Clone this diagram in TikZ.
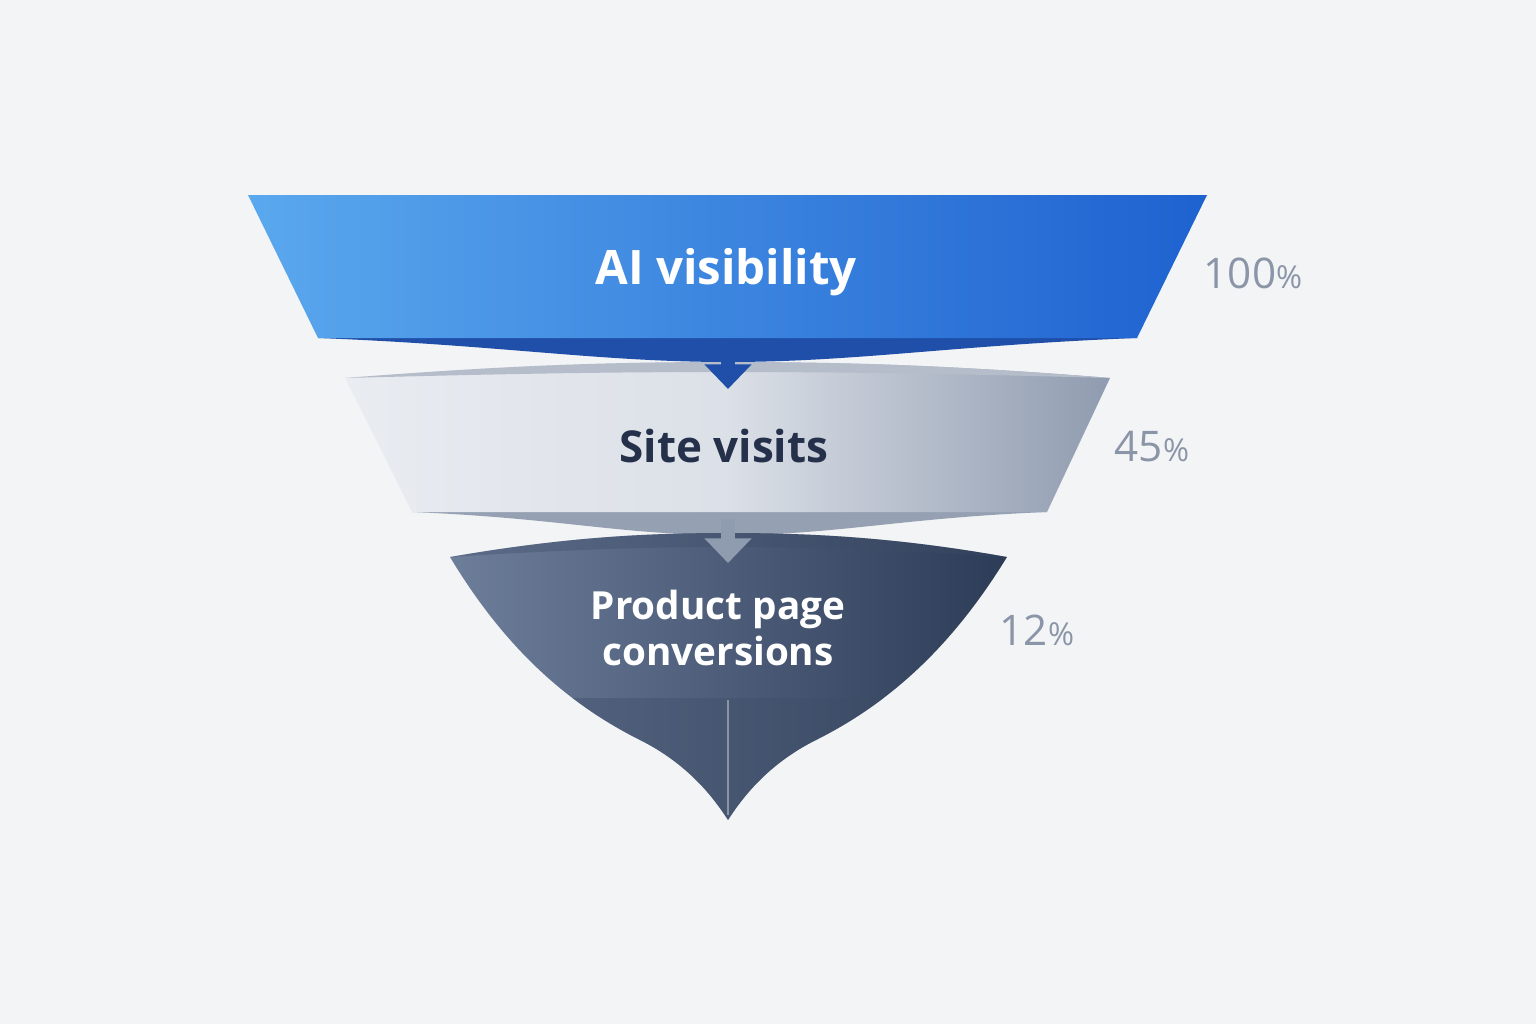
\documentclass[tikz,border=0pt]{standalone}
\usepackage{fontspec}
\setmainfont{Open Sans}
\usetikzlibrary{arrows.meta}
\definecolor{bg}{HTML}{F3F4F6}
\definecolor{blueL}{HTML}{5AA8EE}
\definecolor{blueR}{HTML}{1E62D0}
\definecolor{blueD}{HTML}{1F4FA8}
\definecolor{greyL}{HTML}{E9ECF1}
\definecolor{greyR}{HTML}{8F9BAF}
\definecolor{greyD}{HTML}{95A1B3}
\definecolor{slateL}{HTML}{6E7F9C}
\definecolor{slateR}{HTML}{2B3A55}
\definecolor{slateD}{HTML}{3E4C66}
\definecolor{ink}{HTML}{25304A}
\definecolor{pct}{HTML}{8B95A8}

\begin{document}
\begin{tikzpicture}[
    x = 0.01cm, y = -0.01cm, % pixel grid
    >= Stealth,
    label/.style = {font=\bfseries},
    percent/.style = {text = pct, font=\fontsize{12}{12}\selectfont, anchor = center},
    step arrow/.style = {line width = 4pt, -{Triangle[length=7pt,width=13pt]}},
  ]

  \fill[bg] (0,0) rectangle (1536,1024);

  % top band
  \fill[blueD] (318,338) .. controls (500,345) and (600,362) .. (728,362)
    .. controls (856,362) and (956,345) .. (1137,338) -- cycle;
  \shade[left color = blueL, right color = blueR]
    (248,195) -- (1207,195) -- (1137,338) -- (318,338) -- cycle;
  \node[label, text = white, font=\fontsize{13.5}{13.5}\selectfont\bfseries] (top) at (726,272) {AI visibility};
  \node[percent] (p1) at (1253,273) {100{\fontsize{9}{9}\selectfont\%}};

  % middle band
  \fill[greyD] (412,512) .. controls (560,518) and (620,535) .. (728,535)
    .. controls (836,535) and (900,518) .. (1047,512) -- cycle;
  \shade[left color = greyL, right color = greyR, middle color = greyL!85!greyR]
    (345,378) .. controls (500,366) and (600,362) .. (728,362)
    .. controls (856,362) and (960,366) .. (1110,378)
    -- (1047,512) -- (412,512) -- cycle;
  \fill[greyD!70] (345,378) .. controls (500,366) and (600,362) .. (728,362)
    .. controls (856,362) and (960,366) .. (1110,378)
    .. controls (960,374) and (856,372) .. (728,372)
    .. controls (600,372) and (500,374) .. (345,378) -- cycle;
  \node[label, text = ink, font=\fontsize{12.5}{12.5}\selectfont\bfseries] (mid) at (724,446) {Site visits};
  \node[percent] (p2) at (1152,447) {45{\fontsize{9}{9}\selectfont\%}};

  % bottom cone
  \begin{scope}
    \clip (450,557) .. controls (560,538) and (640,533) .. (728,533)
      .. controls (816,533) and (900,538) .. (1007,557)
      .. controls (956,640) and (896,700) .. (816,740)
      .. controls (766,765) and (741,800) .. (728,820)
      .. controls (715,800) and (690,765) .. (640,740)
      .. controls (560,700) and (500,640) .. (450,557) -- cycle;
    \shade[left color = slateL, right color = slateR] (440,520) rectangle (1020,830);
    \fill[slateD, opacity = 0.35] (440,520) -- (1020,520) -- (1007,557)
      .. controls (900,550) and (816,547) .. (728,547)
      .. controls (640,547) and (560,550) .. (450,557) -- cycle;
    \fill[slateD, opacity = 0.4] (440,698) rectangle (1020,830);
  \end{scope}
  \draw[slateD!60, line width = 0.6pt] (728,700) -- (728,815);
  \node[label, text = white, align = center, font=\fontsize{11}{13}\selectfont\bfseries] (bot) at (718,628) {Product page\\conversions};
  \node[percent] (p3) at (1037,630) {12{\fontsize{9}{9}\selectfont\%}};

  % flow arrows
  \coordinate (a1) at (728,350);
  \coordinate (a1e) at (728,389);
  \coordinate (a2) at (728,519);
  \coordinate (a2e) at (728,563);
  \draw[step arrow, blueD] (a1) -- (a1e);
  \draw[step arrow, greyR] (a2) -- (a2e);

\end{tikzpicture}
\end{document}
